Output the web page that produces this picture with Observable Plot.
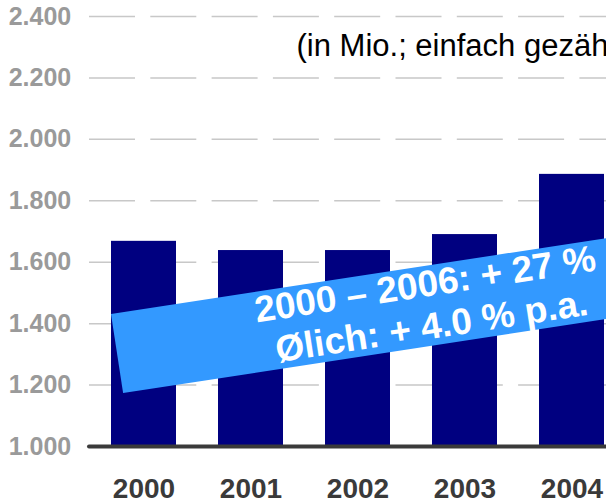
<!DOCTYPE html>
<html>
<head>
<meta charset="utf-8">
<script src="https://cdn.jsdelivr.net/npm/d3@7"></script>
<script src="https://cdn.jsdelivr.net/npm/@observablehq/plot@0.6"></script>
<style>
  html, body { margin: 0; padding: 0; background: #fff; overflow: hidden; }
  #chart { width: 606px; height: 503px; overflow: hidden; }
</style>
</head>
<body>
<div id="chart"></div>
<script>
// ---- data ----
const years = ["2000", "2001", "2002", "2003", "2004"];
const passengers = [1668, 1638, 1638, 1690, 1886];
const yTicks = [1000, 1200, 1400, 1600, 1800, 2000, 2200, 2400];
const subtitle = "(in Mio.; einfach gezählt)";
const bannerLines = ["2000 – 2006: + 27 %", "Ølich: + 4.0 % p.a."];
const bannerFrom = "2000";   // banner starts at left edge of this bar
const bannerTop = 1430;      // value at banner's top-left corner

const data = years.map((year, i) => ({year, value: passengers[i]}));

const FONT = "'Liberation Sans', Arial, Helvetica, sans-serif";
const fmt = d => d3.format(",")(d).replace(/,/g, ".");

// rotated banner annotation, anchored through the plot's scales
const banner = (index, scales) => {
  const x0 = scales.x(bannerFrom);
  const y0 = scales.y(bannerTop);
  const g = d3.create("svg:g")
    .attr("transform", `translate(${x0},${y0}) rotate(-8.7)`);
  g.append("rect")
    .attr("width", 640).attr("height", 80)
    .attr("fill", "#3399ff");
  const t = g.append("text")
    .attr("fill", "#fff")
    .attr("font-family", FONT)
    .attr("font-weight", "bold")
    .attr("font-size", 37)
    .attr("text-anchor", "middle");
  t.append("tspan").attr("x", 315).attr("y", 30.5).text(bannerLines[0]);
  t.append("tspan").attr("x", 315).attr("y", 73).text(bannerLines[1]);
  return g.node();
};

const chart = Plot.plot({
  width: 606,
  height: 503,
  marginLeft: 89,
  marginRight: 0,
  marginTop: 16,
  marginBottom: 57,
  style: {fontFamily: FONT, background: "#fff", overflow: "hidden"},
  x: {domain: years, range: [89, 625.6], paddingInner: 0.392, paddingOuter: 0.186},
  y: {domain: [1000, 2400]},
  marks: [
    Plot.ruleY(yTicks.filter(d => d > 1000), {
      stroke: "#c8c8c8", strokeWidth: 1.5, strokeDasharray: "46 15.3"
    }),
    Plot.barY(data, {x: "year", y1: 1000, y2: "value", fill: "#000080"}),
    Plot.ruleY([1000], {stroke: "#3a3a3a", strokeWidth: 4, strokeLinecap: "round"}),
    Plot.axisY({
      ticks: yTicks, tickSize: 0, tickPadding: 18.3, tickFormat: fmt,
      fontSize: 25, fontWeight: "bold", color: "#9a9a9a", label: null
    }),
    Plot.axisX({
      tickSize: 0, tickPadding: 32, fontSize: 28, fontWeight: "bold",
      color: "#3a3a3a", label: null
    }),
    Plot.text([subtitle], {
      frameAnchor: "top-left", textAnchor: "start", lineAnchor: "bottom",
      dx: 207, dy: 39, fontSize: 31, fill: "#000"
    }),
    banner
  ]
});

document.getElementById("chart").appendChild(chart);
</script>
</body>
</html>
